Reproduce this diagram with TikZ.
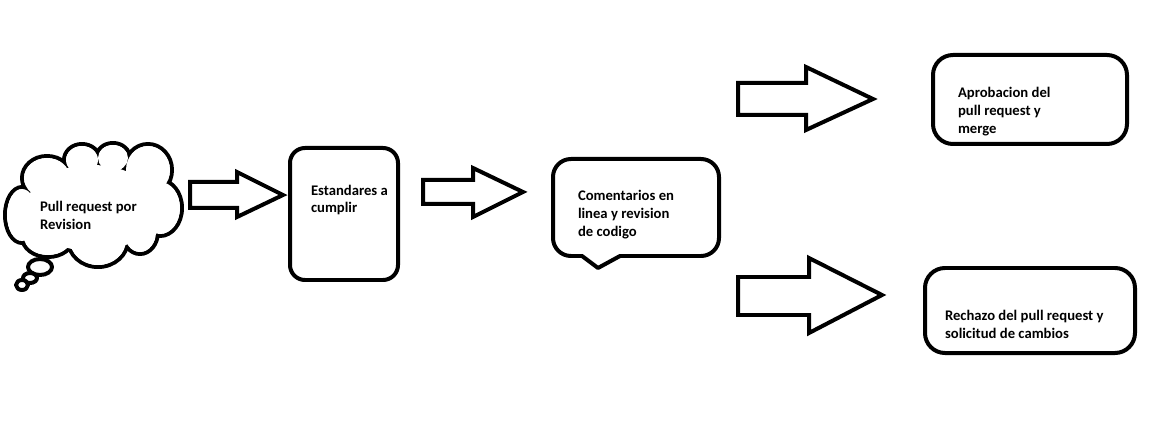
\documentclass[tikz,border=0pt]{standalone}
\usepackage{fontspec}
\setmainfont{Carlito}
\begin{document}
\begin{tikzpicture}[x=0.02cm,y=-0.02cm,line width=0.08cm,line join=round,
  lbl/.style={font=\bfseries\fontsize{8.35}{10.2}\selectfont,align=left,anchor=west,inner sep=0pt},
  boxa/.style={draw,rounded corners=0.3cm,inner sep=0pt},
  boxb/.style={draw,rounded corners=0.4cm,inner sep=0pt},
  barrow/.style={draw,line join=miter}]
\useasboundingbox (0,0) rectangle (1171,446);
% cloud: outline of a union of ellipses
\foreach \cx/\cy/\rx/\ry in {22/215/17/28, 47/178/25/22, 82/160/18/16, 113/158/17/15,
  148/170/24/26, 160/208/22/28, 140/232/18/22, 98/240/30/27, 48/237/26/20}
  \draw (\cx,\cy) ellipse [x radius=\rx*0.02cm, y radius=\ry*0.02cm];
\foreach \cx/\cy/\rx/\ry in {22/215/17/28, 47/178/25/22, 82/160/18/16, 113/158/17/15,
  148/170/24/26, 160/208/22/28, 140/232/18/22, 98/240/30/27, 48/237/26/20, 92/208/68/45}
  \fill[white] (\cx,\cy) ellipse [x radius=\rx*0.02cm-0.04cm, y radius=\ry*0.02cm-0.04cm];
\draw[fill=white] (40,267) ellipse [x radius=0.24cm, y radius=0.16cm];
\draw[fill=white] (30,278) ellipse [x radius=0.14cm, y radius=0.1cm];
\draw[fill=white] (22,285) ellipse [x radius=0.12cm, y radius=0.1cm];
\node[lbl] (pr) at (38,215) {Pull request por\\Revision};
% arrow 1
\draw[barrow] (190,182) -- (237,182) -- (237,172) -- (283,195) -- (237,217) -- (237,208) -- (190,208) -- cycle;
% box estandares
\node[boxa,minimum width=108*0.02cm,minimum height=132*0.02cm] (std) at (344,214) {};
\node[lbl] (stdt) at (309,200) {Estandares a\\cumplir};
% arrow 2
\draw[barrow] (423,180) -- (473,180) -- (473,168) -- (523,192) -- (473,217) -- (473,204) -- (423,204) -- cycle;
% callout
\draw (598,268) -- (582,256) [rounded corners=0.36cm] -- (553,256) -- (553,159) -- (719,159) -- (719,256) [sharp corners] -- (620,256) -- cycle;
\node[lbl] (cmt) at (576,215) {Comentarios en\\linea y revision\\de codigo};
% arrow 3
\draw[barrow] (738,83) -- (806,83) -- (806,67) -- (873,99) -- (806,130) -- (806,115) -- (738,115) -- cycle;
% arrow 4
\draw[barrow] (738,277) -- (809,277) -- (809,258) -- (882,295) -- (809,333) -- (809,315) -- (738,315) -- cycle;
% approval box
\node[boxb,minimum width=194*0.02cm,minimum height=89*0.02cm] (apr) at (1030,99.5) {};
\node[lbl] (aprt) at (956,112) {Aprobacion del\\pull request y\\merge};
% rejection box
\node[boxb,minimum width=210*0.02cm,minimum height=85*0.02cm] (rej) at (1030,310.5) {};
\node[lbl] (rejt) at (943,324) {Rechazo del pull request y\\solicitud de cambios};
\end{tikzpicture}
\end{document}
